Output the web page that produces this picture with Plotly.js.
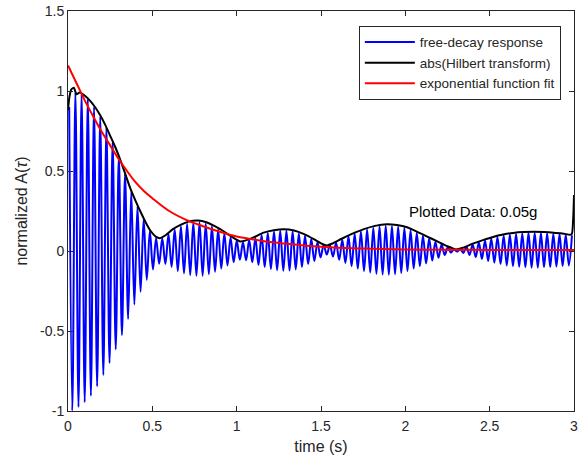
<!DOCTYPE html>
<html>
<head>
<meta charset="utf-8">
<script src="https://cdn.plot.ly/plotly-3.0.1.min.js"></script>
<style>html,body{margin:0;padding:0;background:#fff;}#chart{width:584px;height:463px;}</style>
</head>
<body>
<div id="chart"></div>
<script>
// ---- free-decay response: sampled oscillation (peak/trough per cycle) ----
const blueStart = 0.007;      // time of first crest (s)
const bluePeriod = 0.0368;    // oscillation period (s)
const bluePeaks = [
  0.90,0.99,0.98,0.95,0.90,0.84,0.77,0.68,0.59,0.48,
  0.37,0.28,0.20,0.125,0.08,0.08,0.105,0.135,0.155,0.17,
  0.178,0.18,0.172,0.155,0.135,0.11,0.085,0.065,0.055,0.068,
  0.082,0.10,0.113,0.122,0.126,0.127,0.122,0.11,0.095,0.075,
  0.055,0.037,0.037,0.052,0.07,0.09,0.107,0.122,0.135,0.146,
  0.153,0.158,0.157,0.153,0.144,0.13,0.112,0.096,0.078,0.058,
  0.04,0.023,0.01,0.012,0.027,0.04,0.053,0.065,0.078,0.088,
  0.096,0.102,0.106,0.11,0.112,0.113,0.112,0.11,0.107,0.105,
  0.10,0.097
];
const blueTroughs = [
  -1.0,-0.975,-0.945,-0.905,-0.845,-0.775,-0.70,-0.615,-0.525,-0.425,
  -0.335,-0.255,-0.18,-0.115,-0.08,-0.082,-0.10,-0.125,-0.14,-0.15,
  -0.155,-0.155,-0.145,-0.13,-0.11,-0.09,-0.07,-0.055,-0.058,-0.07,
  -0.088,-0.10,-0.112,-0.12,-0.124,-0.122,-0.115,-0.10,-0.082,-0.062,
  -0.04,-0.022,-0.035,-0.055,-0.075,-0.095,-0.11,-0.125,-0.135,-0.142,
  -0.147,-0.148,-0.145,-0.138,-0.125,-0.11,-0.095,-0.078,-0.06,-0.042,
  -0.025,-0.01,-0.003,-0.012,-0.025,-0.038,-0.05,-0.062,-0.073,-0.082,
  -0.09,-0.095,-0.099,-0.102,-0.104,-0.104,-0.102,-0.10,-0.097,-0.094,
  -0.09
];

// ---- abs(Hilbert transform) envelope ----
const hilbertT = [0,0.008,0.02,0.035,0.05,0.07,0.1,0.13,0.16,0.19,0.22,0.25,0.28,0.31,0.34,0.37,0.40,0.43,0.46,0.49,0.52,0.545,0.58,0.62,0.67,0.72,0.77,0.82,0.87,0.92,0.97,1.02,1.05,1.10,1.16,1.22,1.28,1.34,1.40,1.46,1.50,1.535,1.57,1.62,1.68,1.75,1.82,1.89,1.95,2.01,2.07,2.13,2.19,2.25,2.30,2.34,2.40,2.46,2.52,2.58,2.64,2.70,2.76,2.82,2.88,2.94,2.985,2.995,3.0];
const hilbertA = [0.88,0.96,1.01,1.02,0.98,0.99,0.97,0.94,0.90,0.85,0.79,0.72,0.65,0.57,0.48,0.39,0.315,0.245,0.18,0.125,0.09,0.08,0.10,0.135,0.165,0.185,0.19,0.18,0.155,0.125,0.09,0.06,0.065,0.085,0.115,0.13,0.136,0.128,0.105,0.072,0.048,0.035,0.048,0.075,0.105,0.135,0.157,0.167,0.162,0.148,0.12,0.09,0.06,0.03,0.01,0.02,0.046,0.068,0.088,0.103,0.113,0.118,0.12,0.118,0.114,0.108,0.103,0.20,0.35];

// ---- exponential function fit ----
const fitT = [0,0.05,0.1,0.15,0.2,0.25,0.3,0.35,0.4,0.45,0.5,0.6,0.7,0.8,0.9,1.0,1.1,1.2,1.3,1.4,1.5,1.6,1.8,2.0,2.25,2.5,3.0];
const fitA = [1.16,1.05,0.94,0.84,0.745,0.66,0.575,0.50,0.43,0.375,0.33,0.25,0.195,0.155,0.12,0.09,0.072,0.056,0.045,0.035,0.027,0.021,0.014,0.01,0.008,0.007,0.006];

const legendNames = ['free-decay response','abs(Hilbert transform)','exponential function fit'];
const annotationText = 'Plotted Data: 0.05g';
const xTicks = [0,0.5,1,1.5,2,2.5,3];
const xTickText = ['0','0.5','1','1.5','2','2.5','3'];
const yTicks = [-1,-0.5,0,0.5,1,1.5];
const yTickText = ['-1','-0.5','0','0.5','1','1.5'];

// build the oscillation sample sequence (crest, trough, crest, ...)
const blueX = [], blueY = [];
for (let k = 0; k < bluePeaks.length; k++) {
  const tp = blueStart + k * bluePeriod;
  blueX.push(tp); blueY.push(bluePeaks[k]);
  if (k < blueTroughs.length) { blueX.push(tp + bluePeriod / 2); blueY.push(blueTroughs[k]); }
}

const font = {family: 'Liberation Sans, Arial, sans-serif', color: '#262626'};

const traces = [
  {x: blueX, y: blueY, mode: 'lines', name: legendNames[0],
   line: {color: '#0000ff', width: 2, shape: 'spline', smoothing: 1}},
  {x: hilbertT, y: hilbertA, mode: 'lines', name: legendNames[1],
   line: {color: '#000000', width: 2, shape: 'spline', smoothing: 0.6}},
  {x: fitT, y: fitA, mode: 'lines', name: legendNames[2],
   line: {color: '#ff0000', width: 2, shape: 'spline', smoothing: 1}}
];

const axisCommon = {
  showline: true, mirror: 'ticks', linecolor: '#262626', linewidth: 1,
  ticks: 'inside', ticklen: 5, tickcolor: '#262626', showgrid: false, zeroline: false,
  tickfont: Object.assign({size: 14}, font)
};

const layout = {
  width: 584, height: 463,
  margin: {l: 68, r: 10, t: 11, b: 52},
  paper_bgcolor: '#fff', plot_bgcolor: '#fff',
  showlegend: true,
  legend: {x: 0.974, xanchor: 'right', y: 0.963, yanchor: 'top',
    bgcolor: '#fff', bordercolor: '#262626', borderwidth: 1,
    font: Object.assign({size: 13.5}, font), itemwidth: 50, tracegroupgap: 0},
  xaxis: Object.assign({}, axisCommon, {range: [0, 3], tickvals: xTicks, ticktext: xTickText,
    ticklabelstandoff: 2,
    title: {text: 'time (s)', font: Object.assign({size: 16}, font), standoff: 8}}),
  yaxis: Object.assign({}, axisCommon, {range: [-1, 1.5], tickvals: yTicks, ticktext: yTickText,
    title: {text: 'normalized A(<i>τ</i>)', font: Object.assign({size: 16}, font), standoff: 8}}),
  annotations: [{x: 2.01, y: 0.25, xref: 'x', yref: 'y', xanchor: 'left', yanchor: 'middle',
    text: annotationText, showarrow: false, font: Object.assign({size: 15}, font, {color: '#000'})}]
};

Plotly.newPlot('chart', traces, layout, {displayModeBar: false, staticPlot: true});
</script>
</body>
</html>
